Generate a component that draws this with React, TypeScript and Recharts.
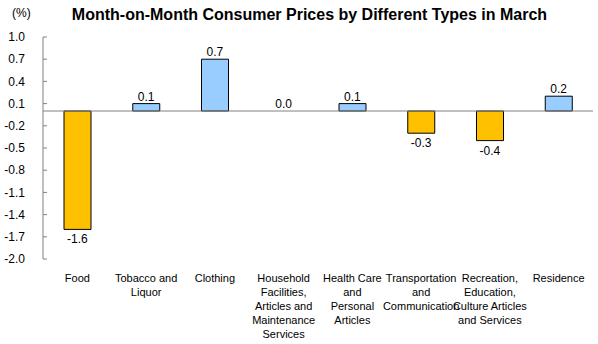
import { ComposedChart, Bar, Line, XAxis, YAxis, Cell, LabelList, ReferenceLine } from 'recharts'

const categories = [
  'Food',
  'Tobacco and Liquor',
  'Clothing',
  'Household Facilities, Articles and Maintenance Services',
  'Health Care and Personal Articles',
  'Transportation and Communication',
  'Recreation, Education, Culture Articles and Services',
  'Residence',
]

// how each category label wraps under the axis
const tickLines = [
  ['Food'],
  ['Tobacco and', 'Liquor'],
  ['Clothing'],
  ['Household', 'Facilities,', 'Articles and', 'Maintenance', 'Services'],
  ['Health Care', 'and', 'Personal', 'Articles'],
  ['Transportation', 'and', 'Communication'],
  ['Recreation,', 'Education,', 'Culture Articles', 'and Services'],
  ['Residence'],
]

const values = [-1.6, 0.1, 0.7, 0.0, 0.1, -0.3, -0.4, 0.2]

const yTicks = [1.0, 0.7, 0.4, 0.1, -0.2, -0.5, -0.8, -1.1, -1.4, -1.7, -2.0]

const data = categories.map((name, i) => ({ name, value: values[i] }))

const FONT = 'Arial, "Liberation Sans", sans-serif'

function CategoryTick({ x, y, payload }: any) {
  const lines = tickLines[payload.index] ?? [payload.value]
  return (
    <text x={x} y={y} textAnchor="middle" fontSize={11} fontFamily={FONT} fill="#000">
      {lines.map((l, i) => (
        <tspan key={i} x={x} dy={i === 0 ? 23 : 14}>
          {l}
        </tspan>
      ))}
    </text>
  )
}

// labels hang off an invisible line so the 0.0 bar still gets one
function ValueLabel({ x, y, value }: any) {
  const ty = value < 0 ? y + 14 : y - 3
  return (
    <text x={x} y={ty} textAnchor="middle" fontSize={12} fontFamily={FONT} fill="#000">
      {Number(value).toFixed(1)}
    </text>
  )
}

export default function App() {
  return (
    <div style={{ position: 'absolute', left: 0, top: 0, width: 598, height: 344, background: '#fff' }}>
      <div
        style={{
          position: 'absolute',
          left: 0,
          width: 619,
          top: 7,
          textAlign: 'center',
          fontFamily: FONT,
          fontWeight: 'bold',
          fontSize: 16,
          lineHeight: '15px',
          whiteSpace: 'nowrap',
        }}
      >
        Month-on-Month Consumer Prices by Different Types in March
      </div>
      <div
        style={{
          position: 'absolute',
          left: 12,
          top: 7,
          fontFamily: FONT,
          fontSize: 12,
          lineHeight: '12px',
        }}
      >
        (%)
      </div>
      <ComposedChart
        width={598}
        height={344}
        data={data}
        margin={{ top: 37, right: 5, bottom: 0, left: 0 }}
      >
        <XAxis
          dataKey="name"
          axisLine={false}
          tickLine={false}
          tickSize={0}
          tickMargin={0}
          height={85}
          interval={0}
          tick={<CategoryTick />}
        />
        <YAxis
          domain={[-2, 1]}
          ticks={yTicks}
          interval={0}
          width={43}
          stroke="#808080"
          tickSize={-4}
          tickMargin={22}
          tickFormatter={(v: number) => v.toFixed(1)}
          tick={{ fill: '#000', fontSize: 12, fontFamily: FONT }}
        />
        <ReferenceLine y={0} stroke="#808080" />
        <Bar dataKey="value" barSize={27} stroke="#000" strokeWidth={1} isAnimationActive={false}>
          {data.map((d, i) => (
            <Cell key={i} fill={d.value < 0 ? '#FFC000' : '#99CCFF'} />
          ))}
        </Bar>
        <Line
          dataKey="value"
          stroke="none"
          dot={false}
          activeDot={false}
          legendType="none"
          isAnimationActive={false}
        >
          <LabelList dataKey="value" content={<ValueLabel />} />
        </Line>
      </ComposedChart>
    </div>
  )
}
